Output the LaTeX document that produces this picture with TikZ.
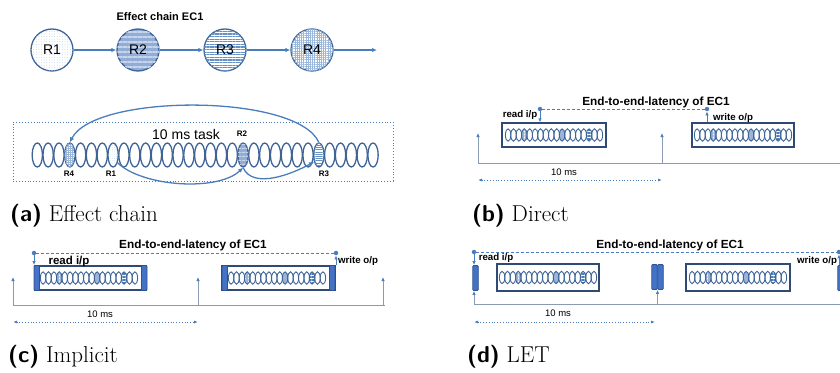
\documentclass[tikz,border=0pt]{standalone}
\usepackage{fontspec}
\newfontfamily\arial{Liberation Sans}
\usetikzlibrary{arrows.meta,shapes.geometric,patterns.meta,calc}
\definecolor{lineblue}{HTML}{4A7EBB}
\definecolor{ringblue}{HTML}{3E6496}
\definecolor{boxdark}{HTML}{2F4B75}
\definecolor{axisgray}{HTML}{8A9AB2}
\definecolor{barfill}{HTML}{4472C4}
\definecolor{bardark}{HTML}{2F528F}
\definecolor{lightfill}{HTML}{9DB4DA}
\definecolor{paleblue}{HTML}{C6D4EC}
\tikzset{
  chaincirc/.style={circle, draw=ringblue, line width=1.3pt, minimum size=42pt, inner sep=0pt, font=\arial\fontsize{14}{16}\selectfont},
  link/.style={draw=lineblue, line width=1.3pt, -{Latex[length=5pt,width=4.5pt]}},
  slot/.style={ellipse, draw=ringblue, line width=1.3pt, minimum width=10.3pt, minimum height=24pt, inner sep=0pt},
  tinylab/.style={font=\arial\bfseries\fontsize{8}{9}\selectfont, inner sep=0pt},
  titlelab/.style={font=\arial\bfseries\fontsize{11.8}{13}\selectfont, inner sep=0pt},
  iolab/.style={font=\arial\bfseries\fontsize{9.7}{11}\selectfont, inner sep=0pt},
  bigiolab/.style={font=\arial\bfseries\fontsize{11.5}{13}\selectfont, inner sep=0pt},
  mslab/.style={font=\arial\fontsize{9.5}{11}\selectfont, inner sep=0pt},
  taskbox/.style={rectangle, draw=boxdark, line width=1.3pt, inner sep=0pt},
  bar/.style={rectangle, rounded corners=1pt, draw=bardark, fill=barfill, line width=0.9pt, minimum width=5.5pt, minimum height=25pt, inner sep=0pt},
  axisline/.style={draw=axisgray, line width=1pt},
  tick/.style={draw=axisgray, line width=0.9pt, -{Latex[length=4pt,width=3.5pt,color=lineblue]}},
  iotick/.style={draw=lineblue, line width=0.9pt, -{Latex[length=4pt,width=3.5pt]}},
  span/.style={draw=lineblue, dotted, line width=0.8pt, {Latex[length=4pt,width=3pt]}-{Latex[length=4pt,width=3pt]}},
  latency/.style={draw=lineblue, line width=0.8pt, dash pattern=on 3pt off 2pt},
  dotmark/.style={circle, fill=lineblue, inner sep=0pt, minimum size=4.5pt},
  caplab/.style={font=\fontsize{23}{26}\selectfont, anchor=base west, inner sep=0pt},
  minirow/.pic={
    \fill[white] (-29.7,0) ellipse [x radius=2.7pt, y radius=6.2pt];
    \fill[pattern={Hatch[distance=1.5pt,line width=0.35pt]}, pattern color=lightfill] (-29.7,0) ellipse [x radius=2.7pt, y radius=6.2pt];
    \fill[lightfill] (8.1,0) ellipse [x radius=2.7pt, y radius=6.2pt];
    \fill[pattern={Lines[distance=1.5pt,line width=0.5pt]}, pattern color=lineblue] (35.1,0) ellipse [x radius=2.7pt, y radius=6.2pt];
    \foreach \i in {0,...,17}{\draw[ringblue, line width=0.9pt] ({(\i-8.5)*5.4},0) ellipse [x radius=2.7pt, y radius=6.2pt];}
  }
}
\begin{document}
\begin{tikzpicture}[x=1pt,y=-1pt]
\useasboundingbox (0,0) rectangle (840,372);

% ---------- (a) effect chain ----------
\node[font=\arial\bfseries\fontsize{11}{13}\selectfont] (ectitle) at (160,17) {Effect chain EC1};
\node[chaincirc, fill=white, postaction={pattern={Dots[radius=0.4pt,distance=2.6pt]}, pattern color=lineblue!45}] (r1) at (52,50) {R1};
\node[chaincirc, fill=lightfill!85!lineblue, postaction={pattern={Lines[distance=5pt,line width=1.8pt]}, pattern color=paleblue}] (r2) at (138,50) {R2};
\node[chaincirc, fill=white, postaction={pattern={Lines[distance=2.6pt,line width=1.1pt]}, pattern color=lineblue!85}] (r3) at (225,50) {R3};
\node[chaincirc, fill=white, postaction={pattern={Hatch[distance=2.2pt,line width=0.45pt]}, pattern color=lineblue!55}] (r4) at (312,50) {R4};
\coordinate (rend) at (377,50);
\draw[link] (r1) -- (r2);
\draw[link] (r2) -- (r3);
\draw[link] (r3) -- (r4);
\draw[link] (r4) -- (rend);

\node[draw=lineblue, dotted, line width=0.9pt, minimum width=380pt, minimum height=59pt, inner sep=0pt] (frame) at (203,151.5) {};
\foreach \i in {0,1,2,4,5,6,8,9,10,11,12,13,14,15,16,17,18,20,21,22,23,24,25,27,28,29,30,31}
  \node[slot] (e\i) at ({37.3+10.83*\i},155) {};
\node[slot, fill=white, postaction={pattern={Hatch[distance=2pt,line width=0.4pt]}, pattern color=lineblue!55}] (e3) at (69.79,155) {};
\node[slot, fill=white, postaction={pattern={Dots[radius=0.35pt,distance=2.2pt]}, pattern color=lineblue!45}] (e7) at (113.11,155) {};
\node[slot, fill=lightfill!85!lineblue, postaction={pattern={Lines[distance=4pt,line width=1.3pt]}, pattern color=paleblue}] (e19) at (243.07,155) {};
\node[slot, fill=white, postaction={pattern={Lines[distance=2.2pt,line width=0.9pt]}, pattern color=lineblue!85}] (e26) at (318.88,155) {};

\node[font=\arial\fontsize{14}{16}\selectfont] (tasklab) at (186,134) {10 ms task};
\node[tinylab] (l4) at (69,174) {R4};
\node[tinylab] (l1) at (111,174) {R1};
\node[tinylab] (l2) at (242,134) {R2};
\node[tinylab] (l3) at (324,174) {R3};

\draw[link] (e7.300) .. controls +(25,24) and +(-25,24) .. (e19.south);
\draw[link] (e19.south) .. controls +(10,22) and +(-22,12) .. (e26.235);
\draw[link] (e26.north) .. controls +(-22,-49) and +(25,-49) .. (e3.north);

\node[caplab] (capa) at (10,221) {{\sffamily\bfseries (a)} Effect chain};

% ---------- (b) direct ----------
\node[titlelab] (tb) at (656,102) {End-to-end-latency of EC1};
\node[taskbox, minimum width=104pt, minimum height=24pt] (b1) at (554,135) {};
\pic at (b1.center) {minirow};
\node[taskbox, minimum width=102pt, minimum height=24pt] (b2) at (743,135) {};
\pic at (b2.center) {minirow};
\node[dotmark] (br) at (540,109) {};
\node[dotmark] (bw) at (707,109) {};
\draw[latency] (br) -- (bw);
\draw[iotick] (br) -- (br |- b1.north);
\draw[iotick] (bw |- b2.north) -- (bw);
\node[iolab] (brl) at (520,115) {read i/p};
\node[iolab] (bwl) at (733,118) {write o/p};
\coordinate (bx0) at (478,163);
\coordinate (bx1) at (662,163);
\coordinate (bx2) at (840,163);
\coordinate (bt0) at (478,133);
\coordinate (bt1) at (662,133);
\draw[axisline] (bx0) -- (bx2);
\draw[tick] (bx0) -- (bt0);
\draw[tick] (bx1) -- (bt1);
\node[mslab] (bms) at (564,172) {10 ms};
\coordinate (bs0) at (478,180);
\coordinate (bs1) at (662,180);
\draw[span] (bs0) -- (bs1);
\node[caplab] (capb) at (472,221) {{\sffamily\bfseries (b)} Direct};

% ---------- (c) implicit ----------
\node[titlelab] (tc) at (193,245) {End-to-end-latency of EC1};
\node[taskbox, minimum width=111pt, minimum height=24pt] (c1) at (90.5,278) {};
\pic at (89,278) {minirow};
\node[bar] (c1l) at (36.75,278) {};
\node[bar] (c1r) at (144.25,278) {};
\node[taskbox, minimum width=113pt, minimum height=24pt] (c2) at (278.5,278) {};
\pic at (277,278) {minirow};
\node[bar] (c2l) at (224.75,278) {};
\node[bar] (c2r) at (332.25,278) {};
\node[dotmark] (cr) at (34,253) {};
\node[dotmark] (cw) at (336,253) {};
\draw[latency] (cr) -- (cw);
\draw[iotick] (cr) -- (cr |- c1l.north);
\draw[iotick] (cw |- c2r.north) -- (cw);
\node[bigiolab] (crl) at (69,262) {read i/p};
\node[iolab] (cwl) at (358,261) {write o/p};
\coordinate (cx0) at (13,305);
\coordinate (cx1) at (198,305);
\coordinate (cx2) at (383,305);
\coordinate (cx3) at (385,305);
\coordinate (ct0) at (13,277);
\coordinate (ct1) at (198,277);
\coordinate (ct2) at (383,277);
\draw[axisline] (cx0) -- (cx3);
\draw[tick] (cx0) -- (ct0);
\draw[tick] (cx1) -- (ct1);
\draw[tick] (cx2) -- (ct2);
\node[mslab] (cms) at (100,314) {10 ms};
\coordinate (cs0) at (13,322);
\coordinate (cs1) at (198,322);
\draw[span] (cs0) -- (cs1);
\node[caplab] (capc) at (8,362) {{\sffamily\bfseries (c)} Implicit};

% ---------- (d) LET ----------
\node[titlelab] (td) at (670,245) {End-to-end-latency of EC1};
\node[bar] (dl) at (475.5,278) {};
\node[taskbox, minimum width=102pt, minimum height=27pt] (d1) at (548,277.5) {};
\pic at (d1.center) {minirow};
\node[bar] (dm1) at (654.5,277) {};
\node[bar] (dm2) at (660.5,277) {};
\node[taskbox, minimum width=104pt, minimum height=27pt] (d2) at (738,277.5) {};
\pic at (d2.center) {minirow};
\node[bar] (drb) at (840.5,278) {};
\node[dotmark] (dr) at (474,252) {};
\node[dotmark] (dw) at (839,252) {};
\draw[latency] (dr) -- (dw);
\draw[iotick] (dr) -- (dr |- dl.north);
\draw[iotick] (dw |- drb.north) -- (dw);
\node[iolab] (drl) at (496,258) {read i/p};
\node[iolab] (dwl) at (817,261) {write o/p};
\coordinate (dx0) at (474,304);
\coordinate (dx1) at (657.5,304);
\coordinate (dx2) at (840,304);
\draw[axisline] (dx0) -- (dx2);
\draw[tick] (dx0) -- (dx0 |- dl.south);
\draw[tick] (dx1) -- (dx1 |- dm1.south);
\node[mslab] (dms) at (558,313) {10 ms};
\coordinate (ds0) at (474,322);
\coordinate (ds1) at (655,322);
\draw[span] (ds0) -- (ds1);
\node[caplab] (capd) at (467,362) {{\sffamily\bfseries (d)} LET};
\end{tikzpicture}
\end{document}
